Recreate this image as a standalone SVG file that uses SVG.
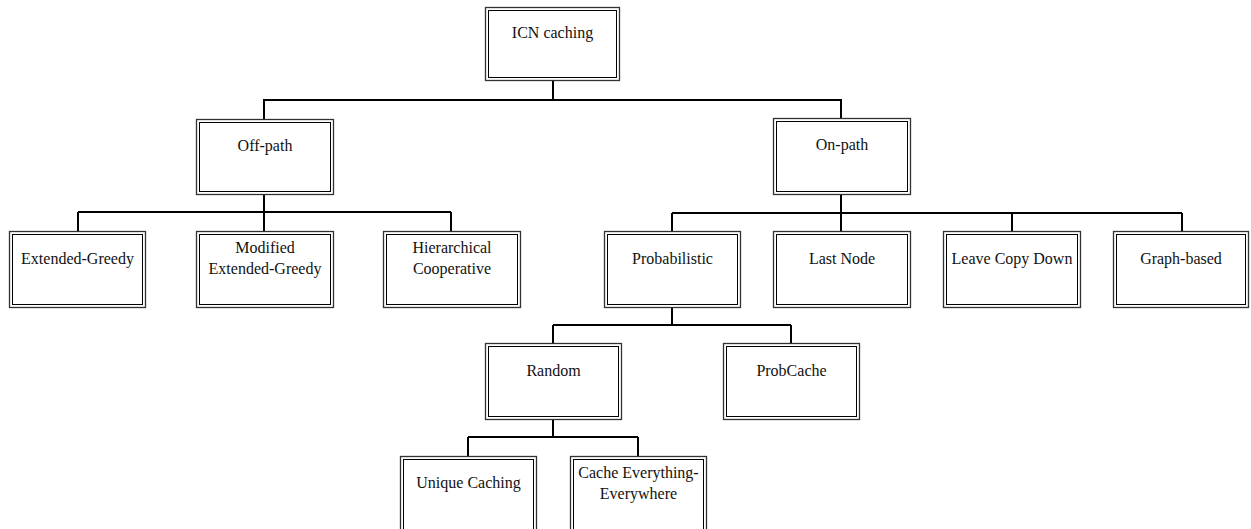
<svg xmlns="http://www.w3.org/2000/svg" width="1251" height="529" viewBox="0 0 1251 529">
<style>
.o{fill:#fff;stroke:#333;stroke-width:1.3}
.i{fill:none;stroke:#000;stroke-width:1}
.t{font-family:'Liberation Serif','Times New Roman',Times,serif;font-size:16px;fill:#111;text-anchor:middle}
.c{fill:none;stroke:#000;stroke-width:2}
</style>
<rect width="1251" height="529" fill="#fff"/>
<g id="connectors">
<path class="c" d="M553 81V100M263 100H842M264 100V119M841 100V118"/>
<path class="c" d="M264 194V212M78 212H451M78 212V231M264 212V231M451 212V232"/>
<path class="c" d="M841 194V213M672 213H1182M672 213V232M841 213V232M1012 213V231M1182 213V232"/>
<path class="c" d="M672 307V325M553 325H791M553 325V343M791 325V343"/>
<path class="c" d="M553 419V437M468 437H638M468 437V456M638 437V456"/>
</g>
<g font-family="Liberation Serif, serif">
<g id="icn"><rect class="o" x="485.5" y="7.5" width="134" height="73"/><rect class="i" x="488.5" y="10.5" width="128" height="67"/><text class="t" x="552.5" y="38">ICN caching</text></g>
<g id="offpath"><rect class="o" x="196.5" y="119.5" width="137" height="75"/><rect class="i" x="199.5" y="122.5" width="131" height="69"/><text class="t" x="265" y="151">Off-path</text></g>
<g id="onpath"><rect class="o" x="773.5" y="118.5" width="137" height="76"/><rect class="i" x="776.5" y="121.5" width="131" height="70"/><text class="t" x="842" y="150">On-path</text></g>
<g id="extgreedy"><rect class="o" x="9.5" y="231.5" width="136" height="76"/><rect class="i" x="12.5" y="234.5" width="130" height="70"/><text class="t" x="77.5" y="264">Extended-Greedy</text></g>
<g id="modextgreedy"><rect class="o" x="196.5" y="231.5" width="137" height="76"/><rect class="i" x="199.5" y="234.5" width="131" height="70"/><text class="t" x="265" y="253">Modified</text><text class="t" x="265" y="274">Extended-Greedy</text></g>
<g id="hiercoop"><rect class="o" x="383.5" y="231.5" width="137" height="76"/><rect class="i" x="386.5" y="234.5" width="131" height="70"/><text class="t" x="452" y="253">Hierarchical</text><text class="t" x="452" y="274">Cooperative</text></g>
<g id="probabilistic"><rect class="o" x="604.5" y="231.5" width="136" height="76"/><rect class="i" x="607.5" y="234.5" width="130" height="70"/><text class="t" x="672.5" y="264">Probabilistic</text></g>
<g id="lastnode"><rect class="o" x="773.5" y="231.5" width="137" height="76"/><rect class="i" x="776.5" y="234.5" width="131" height="70"/><text class="t" x="842" y="264">Last Node</text></g>
<g id="lcd"><rect class="o" x="943.5" y="231.5" width="137" height="76"/><rect class="i" x="946.5" y="234.5" width="131" height="70"/><text class="t" x="1012" y="264">Leave Copy Down</text></g>
<g id="graphbased"><rect class="o" x="1113.5" y="231.5" width="135" height="76"/><rect class="i" x="1116.5" y="234.5" width="129" height="70"/><text class="t" x="1181" y="264">Graph-based</text></g>
<g id="random"><rect class="o" x="485.5" y="343.5" width="136" height="76"/><rect class="i" x="488.5" y="346.5" width="130" height="70"/><text class="t" x="553.5" y="376">Random</text></g>
<g id="probcache"><rect class="o" x="723.5" y="343.5" width="136" height="76"/><rect class="i" x="726.5" y="346.5" width="130" height="70"/><text class="t" x="791.5" y="376">ProbCache</text></g>
<g id="unique"><rect class="o" x="400.5" y="456.5" width="136" height="76"/><rect class="i" x="403.5" y="459.5" width="130" height="70"/><text class="t" x="468.5" y="488">Unique Caching</text></g>
<g id="cee"><rect class="o" x="570.5" y="456.5" width="136" height="76"/><rect class="i" x="573.5" y="459.5" width="130" height="70"/><text class="t" x="638.5" y="478">Cache Everything-</text><text class="t" x="638.5" y="499">Everywhere</text></g>
</g>
</svg>
